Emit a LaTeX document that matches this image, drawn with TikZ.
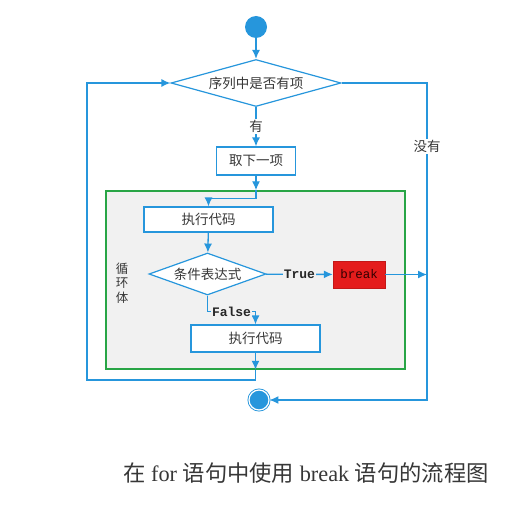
\documentclass[tikz,border=0pt]{standalone}
\usepackage{fontspec}
\setmainfont{Liberation Serif}
\newfontfamily\cjk{Noto Sans CJK SC}
\newfontfamily\codefont{Liberation Mono}
\usepackage{xcolor}
\usepackage{tikz}
\usetikzlibrary{arrows.meta,positioning,calc,shapes.geometric}
\definecolor{flowblue}{RGB}{38,150,220}
\definecolor{loopgreen}{RGB}{40,165,70}
\definecolor{loopgray}{RGB}{241,241,241}
\definecolor{breakred}{RGB}{228,28,28}
\definecolor{inkgray}{RGB}{55,55,55}

\begin{document}
\begin{tikzpicture}[x=1pt,y=-1pt,>={Latex[length=9pt,width=8pt]},
  every node/.style={font=\cjk\fontsize{13.5}{15}\selectfont,text=inkgray},
  flow/.style={->,draw=flowblue,line width=1.3pt},
  decision/.style={diamond,draw=flowblue,fill=white,line width=1.2pt,inner sep=0pt},
  stepbox/.style={rectangle,draw=flowblue,fill=white,line width=1.2pt,inner sep=0pt},
  breakbox/.style={rectangle,fill=breakred,draw=breakred!85!black,minimum width=52pt,minimum height=27pt,
    font=\codefont\fontsize{12.5}{14}\selectfont,text=black!80!red},
  loopbox/.style={rectangle,draw=loopgreen,fill=loopgray,line width=1.5pt,minimum width=299pt,minimum height=178pt},
  startdot/.style={circle,fill=flowblue,minimum size=22pt,inner sep=0pt},
  stopdot/.style={circle,fill=flowblue,draw=flowblue,double=white,double distance=1.2pt,line width=0.9pt,
    minimum size=20pt,inner sep=0pt},
  tag/.style={fill=white,inner sep=1.5pt},
  codetag/.style={fill=loopgray,inner sep=1pt,font=\codefont\bfseries\fontsize{13}{14}\selectfont,text=black!85}]
  \useasboundingbox (0,0) rectangle (532,505);
  % loop body frame first, so the rest sits on it
  \node[loopbox] (body) at (255.5,280) {};
  \node[startdot] (start) at (256,27) {};
  \node[decision,aspect=3.6,minimum width=170pt,minimum height=47pt] (hasitem) at (256,83) {序列中是否有项};
  \node[stepbox,minimum width=79pt,minimum height=28pt] (takeitem) at (256,161) {取下一项};
  \node[stepbox,minimum width=129pt,minimum height=25pt] (runcode) at (208.5,219.5) {执行代码};
  \node[decision,aspect=2.8,minimum width=117pt,minimum height=42pt] (cond) at (207.5,274) {条件表达式};
  \node[breakbox] (brk) at (359,274.5) {break};
  \node[stepbox,minimum width=129pt,minimum height=27pt] (runrest) at (255.5,338.5) {执行代码};
  \node[stopdot] (stop) at (259,400) {};
  \node[align=center,inner sep=0pt,font=\cjk\fontsize{12.5}{14.5}\selectfont] (looplabel) at (122,283) {循\\环\\体};
  \coordinate (rightturn) at (427,400);
  \coordinate (leftturn) at (87,380);

  \draw[flow] (start) -- (hasitem);
  \draw[flow] (hasitem) -- node[tag]{有} (takeitem);
  \draw[flow] (takeitem) -- (takeitem |- body.north);
  \draw[flow] (takeitem |- body.north) -- ++(0,8) -| (runcode.north);
  \draw[flow] (runcode) -- (cond);
  \draw[flow] (cond) -- node[codetag]{True} (brk);
  \draw[flow] (brk) -- (brk -| rightturn);
  \draw[flow] (cond.south) |- node[pos=0.75,codetag]{False} ($(runrest.north)+(0,-13)$) -- (runrest.north);
  \draw[flow] (runrest) -- (runrest |- body.south);
  \draw[flow] (runrest |- body.south) -- (runrest |- leftturn) -- (leftturn) |- (hasitem.west);
  \draw[flow] (hasitem.east) -| node[pos=0.6,tag]{没有} (rightturn) -- (stop);

  \node[font=\rmfamily\fontsize{22.3}{26}\selectfont,text=inkgray] (caption) at (306,473)
    {{\cjk 在} for {\cjk 语句中使用} break {\cjk 语句的流程图}};
\end{tikzpicture}
\end{document}
